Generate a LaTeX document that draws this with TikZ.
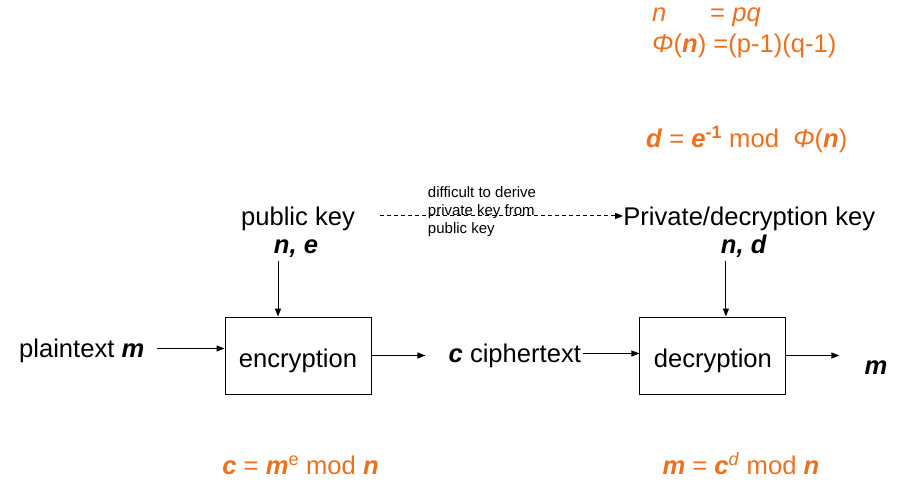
\documentclass[tikz,border=0pt]{standalone}
\usepackage{fontspec}
\setmainfont{Liberation Sans}
\usetikzlibrary{shapes,arrows.meta,positioning}
\definecolor{rsaorange}{RGB}{237,112,30}

\begin{document}
\begin{tikzpicture}[x=1pt,y=-1pt]
   \tikzset{box node/.style={rectangle, draw, line width=0.9pt,
   		minimum width=146pt, minimum height=77pt, inner sep=0pt,
   		text height=23.5pt, text depth=0pt,
   		font=\fontsize{25.6}{30}\selectfont}, }
   \tikzset{text node/.style={inner sep=0pt, text height=20.5pt,
   		text depth=2pt, font=\fontsize{25.6}{30}\selectfont}, }
   \tikzset{formula node/.style={text node, text=rsaorange}, }
   \tikzset{note node/.style={inner sep=0pt, align=left,
   		font=\fontsize{15}{18}\selectfont}, }
   \tikzset{linea/.style={-{Triangle[length=8pt,width=6pt]}, line width=1pt},}
   \tikzset{linea dashed/.style={linea, dash pattern=on 4pt off 3pt},}

\useasboundingbox (0,0) rectangle (900,494);
\node[box node] (3) at (298,355.5) {encryption};
\node[box node] (7) [right=268pt of 3] {decryption};
\node[text node] (1) [left=80pt of 3, yshift=7pt] {plaintext \textbf{\textit{m}}};
\node[text node] (5) [right=77pt of 3, yshift=2pt] {\textbf{\textit{c}} ciphertext};
\node[text node] (9) [right=78pt of 7, yshift=-10pt] {\textbf{\textit{m}}};
\node[text node] (4) [above=60.75pt of 3, xshift=-2pt] {\textbf{\textit{n, e}}};
\node[text node] (2) [above=5.5pt of 4, xshift=2pt] {public key};
\node[text node] (8) [above=60.75pt of 7, xshift=31pt] {\textbf{\textit{n, d}}};
\node[text node] (6) [right=268pt of 2] {Private/decryption key};
% formulas
\node[formula node, anchor=west] (11) at (652,43) {\textit{Φ}(\textbf{\textit{n}}) =(p-1)(q-1)};
\node[formula node] (10) [above right=7.5pt and 0pt of 11.north west] {\makebox[58pt][l]{\textit{n}}= \textit{pq}};
\node[formula node] (12) [below right=72.5pt and -6pt of 11.south west] {\textbf{\textit{d}} = \textbf{\textit{e}}\textsuperscript{\textbf{-1}} mod~~\textit{Φ}(\textbf{\textit{n}})};
\node[formula node] (13) [below=59.75pt of 3, xshift=2.5pt] {\textbf{\textit{c}} = \textbf{\textit{m}}\textsuperscript{e} mod \textbf{\textit{n}}};
\node[formula node] (14) [below=59.75pt of 7, xshift=28pt] {\textbf{\textit{m}} = \textbf{\textit{c}}\textsuperscript{\textit{d}} mod \textbf{\textit{n}}};
\foreach \x/\y/\a/\b in {1/3/12pt/0pt,3/5/0pt/23pt,5/7/2pt/0pt,7/9/0pt/25pt}
\path[linea] (\x.east) edge[shorten <=\a, shorten >=\b] (\x.east -| \y.west);
\foreach \x/\y in {4/3,8/7}
\path[linea] ([xshift=-18pt]\x.south) edge[shorten <=5pt] ([xshift=-18pt]\x.south |- \y.north);
\path[linea dashed] (2.east) edge[shorten <=25pt] node[note node, pos=0.27, anchor=west, yshift=4pt] {difficult to derive\\private key from\\public key} (6.west);
% 
\end{tikzpicture}
\end{document}
